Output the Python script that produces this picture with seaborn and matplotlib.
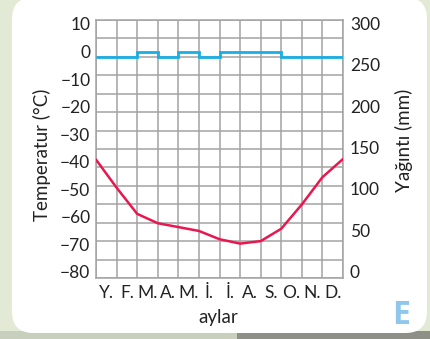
import numpy as np
import pandas as pd
import matplotlib
matplotlib.use("Agg")
import matplotlib.pyplot as plt
from matplotlib.patches import FancyBboxPatch, Rectangle
import seaborn as sns

# ---- data ----
months = ["Y.", "F.", "M.", "A.", "M.", "İ.", "İ.", "A.", "S.", "O.", "N.", "D."]
# temperature (°C) read at month boundaries (start of Jan ... end of Dec)
temp_boundaries = [-39.2, -49.4, -58.9, -62.3, -63.7, -65.1, -68.1, -69.7, -68.8, -64.3, -55.5, -45.6, -39.0]
# blue step series (read on the left scale)
blue_steps = [-2, -2, 0, -2, 0, -2, 0, 0, 0, -2, -2, -2]
left_ticks = [10, 0, -10, -20, -30, -40, -50, -60, -70, -80]
right_ticks = [0, 50, 100, 150, 200, 250, 300]

sns.set_theme(style="white")
plt.rcParams["font.family"] = ["Lato", "DejaVu Sans"]

W, H = 430, 339
fig = plt.figure(figsize=(W / 100, H / 100), dpi=100)
fig.patch.set_facecolor("#e2e9d5")

# card background
fig.patches.append(Rectangle((0.55, 0), 0.45, 8 / H, transform=fig.transFigure,
                             facecolor="#8e8f87", edgecolor="none", zorder=-3))
fig.patches.append(Rectangle((0, 0), 0.55, 8 / H, transform=fig.transFigure,
                             facecolor="#c9cfbd", edgecolor="none", zorder=-3))
card = FancyBboxPatch((12 / W, 6 / H), (415 / W), 0.99, transform=fig.transFigure,
                      boxstyle="round,pad=0,rounding_size=0.05", facecolor="white",
                      edgecolor="none", zorder=-2, mutation_aspect=W / H)
fig.patches.append(card)

ax = fig.add_axes([96 / W, 1 - 278 / H, 247 / W, 258 / H])
ax.set_facecolor("white")
ylo, yhi = -82.18, 11.45
ax.set_xlim(0, 12)
ax.set_ylim(ylo, yhi)

grid_c = "#a3a3a3"
ax.set_xticks(np.arange(13), minor=True)
ax.set_yticks(np.linspace(ylo, yhi, 15), minor=True)
ax.grid(which="minor", color=grid_c, linewidth=1.1)
ax.grid(which="major", visible=False)
ax.set_axisbelow(True)

ax.set_xticks(np.arange(12) + 0.5)
ax.set_xticklabels(months)
ax.set_yticks(left_ticks)
ax.set_yticklabels(["−" + str(-v) if v < 0 else str(v) for v in left_ticks])
ax.tick_params(axis="both", which="both", length=0, labelsize=12.5, colors="#222222")
ax.tick_params(axis="x", pad=5)
ax.tick_params(axis="y", pad=4)
for s in ax.spines.values():
    s.set_color(grid_c)
    s.set_linewidth(1.1)

# blue step series
ax.stairs(blue_steps, np.arange(13), baseline=None, color="#1aaee6", linewidth=2.0, zorder=3)

# red temperature line
df = pd.DataFrame({"x": np.arange(13), "t": temp_boundaries})
sns.lineplot(data=df, x="x", y="t", ax=ax, color="#e8174f", linewidth=1.8, zorder=4)
ax.set_xlabel("")
ax.set_ylabel("")

ax2 = ax.twinx()
ax2.set_ylim(-7.6, 304)
ax2.set_yticks(right_ticks)
ax2.set_yticklabels([str(v) for v in right_ticks])
ax2.tick_params(axis="y", length=0, labelsize=12.5, colors="#222222", pad=5)
ax2.grid(False)
for s in ax2.spines.values():
    s.set_visible(False)

fig.text(42 / W, 1 - 155 / H, "Temperatur (°C)", rotation=90, ha="center", va="center",
         fontsize=13.5, color="#222222")
fig.text(404 / W, 1 - 140 / H, "Yağıntı (mm)", rotation=90, ha="center", va="center",
         fontsize=13.5, color="#222222")
fig.text(218 / W, 1 - 318 / H, "aylar", ha="center", va="center", fontsize=13.5, color="#222222")
fig.text(401 / W, 1 - 315 / H, "E", ha="center", va="center", fontsize=23, fontweight="bold",
         color="#8ec6ec", family=["Open Sans", "DejaVu Sans"])

fig.savefig("out.png", dpi=100, facecolor=fig.get_facecolor())
